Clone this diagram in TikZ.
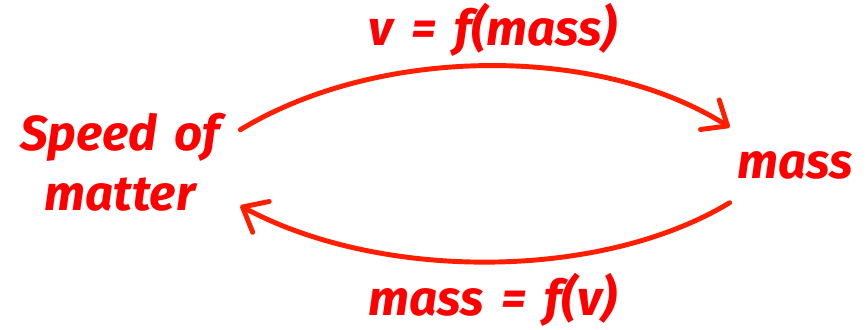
\documentclass[tikz,border=0pt]{standalone}
\usepackage{fontspec}
\setmainfont{Fira Sans}[WordSpace=1.6]
\usetikzlibrary{arrows.meta}
\definecolor{textred}{RGB}{255,0,0}
\definecolor{arrowred}{RGB}{255,30,0}

\begin{document}
\begin{tikzpicture}[x=0.02cm, y=-0.02cm,
        word/.style={text=textred, font=\fontsize{28}{34}\selectfont\bfseries\itshape, align=center},
        arrow/.style={-{Straight Barb[length=0.42cm, width=0.7cm, round]}, draw=arrowred, line width=2.8pt, line cap=round}
    ]
        \useasboundingbox (0,0) rectangle (867,329);
        \node[word, minimum width=4.8cm, minimum height=2.2cm] (SPEED) at (120,162) {Speed of\\matter};
        \node[word, minimum width=2.6cm, minimum height=1.8cm] (MASS) at (795,165) {mass};
        \node[word] (VOFM) at (493,30) {v = f(mass)};
        \node[word] (MOFV) at (493,300) {mass = f(v)};
        \draw[arrow] (SPEED.15) .. controls (380,45) and (600,45) .. (MASS.150);
        \draw[arrow] (MASS.210) .. controls (600,281) and (380,281) .. (SPEED.-20);
    \end{tikzpicture}
\end{document}
